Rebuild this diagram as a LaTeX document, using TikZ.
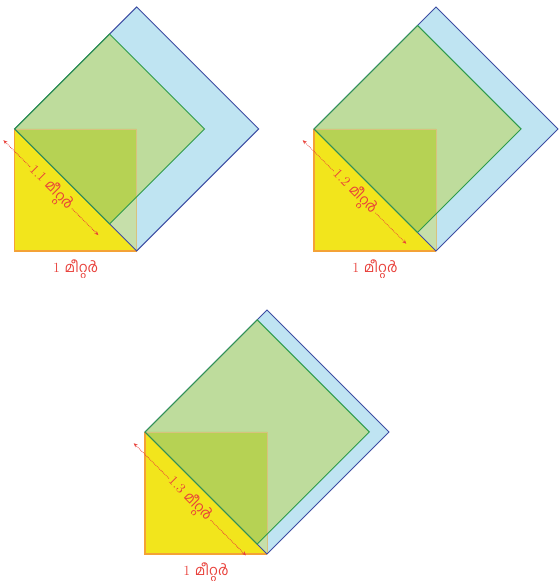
\documentclass[tikz,border=0pt]{standalone}
\usepackage{fontspec}
\newfontfamily\malfont[Script=Malayalam]{Hind Kochi}
\usetikzlibrary{arrows.meta}
\definecolor{sqyellow}{HTML}{F2E51C}
\definecolor{sqorange}{HTML}{F4A236}
\definecolor{sqtan}{HTML}{D8C27E}
\definecolor{sqblue}{HTML}{BFE4F2}
\definecolor{sqblueline}{HTML}{3D4DA3}
\definecolor{sqgreen}{HTML}{BEDC9C}
\definecolor{sqgreenline}{HTML}{2E9B4B}
\definecolor{sqolive}{HTML}{B6D254}
\definecolor{sqpale}{HTML}{C6DFAA}
\definecolor{lblred}{HTML}{E8403A}
\tikzset{
  orangeedge/.style={draw=sqorange, line width=1.2pt},
  tanedge/.style={draw=sqtan, line width=0.8pt},
  blueedge/.style={draw=sqblueline, line width=1pt, line join=miter},
  greenedge/.style={draw=sqgreenline, line width=1pt, line join=miter},
  mlabel/.style={text=lblred, inner sep=1.5pt, font=\fontsize{14}{16}\selectfont},
  dimline/.style={draw=lblred, densely dotted, line width=0.8pt, -{Stealth[length=4pt,width=3.5pt]}}
}
\begin{document}
\begin{tikzpicture}[x=122pt, y=122pt]
\useasboundingbox (0pt,0pt) rectangle (558pt,585pt);
\def\off{0.092}
\foreach \k/\ox/\oy in {1.1/14.7/334, 1.2/314/334, 1.3/145/31} {
\pgfmathsetmacro\d{\k/sqrt(2)}
\begin{scope}[shift={(\ox pt,\oy pt)}]
% square on the diagonal
\fill[sqblue] (0,1) -- (1,2) -- (2,1) -- (1,0) -- cycle;
\fill[sqpale] (0,1) -- (1,1) -- (1,0) -- cycle;
% square on the measured side
\fill[sqgreen] (0,1) -- (\d,1-\d) -- (2*\d,1) -- (\d,1+\d) -- cycle;
\begin{scope}
\clip (0,1) -- (\d,1-\d) -- (2*\d,1) -- (\d,1+\d) -- cycle;
\fill[sqolive] (0,1) -- (1,1) -- (1,0) -- cycle;
\end{scope}
\fill[sqyellow] (0,0) -- (1,0) -- (0,1) -- cycle;
\draw[tanedge] (0,1) -- (1,1) -- (1,0);
\draw[orangeedge] (0,1) -- (0,0) -- (1,0);
\draw[blueedge] (0,1) -- (1,2) -- (2,1) -- (1,0) -- cycle;
\draw[greenedge] (0,1) -- (\d,1-\d) -- (2*\d,1) -- (\d,1+\d) -- cycle;
% labels
\node[mlabel] (base) at (0.5,-0.15) {1 {\malfont മീറ്റർ}};
\coordinate (p) at (-\off,1-\off);
\coordinate (q) at ({\d-\off},{1-\d-\off});
\node[mlabel, rotate=-45] (len) at ({\d/2-\off},{1-\d/2-\off}) {\k\ {\malfont മീറ്റർ}};
\draw[dimline] (len.west) -- (p);
\draw[dimline] (len.east) -- (q);
\end{scope}
}
\end{tikzpicture}
\end{document}
